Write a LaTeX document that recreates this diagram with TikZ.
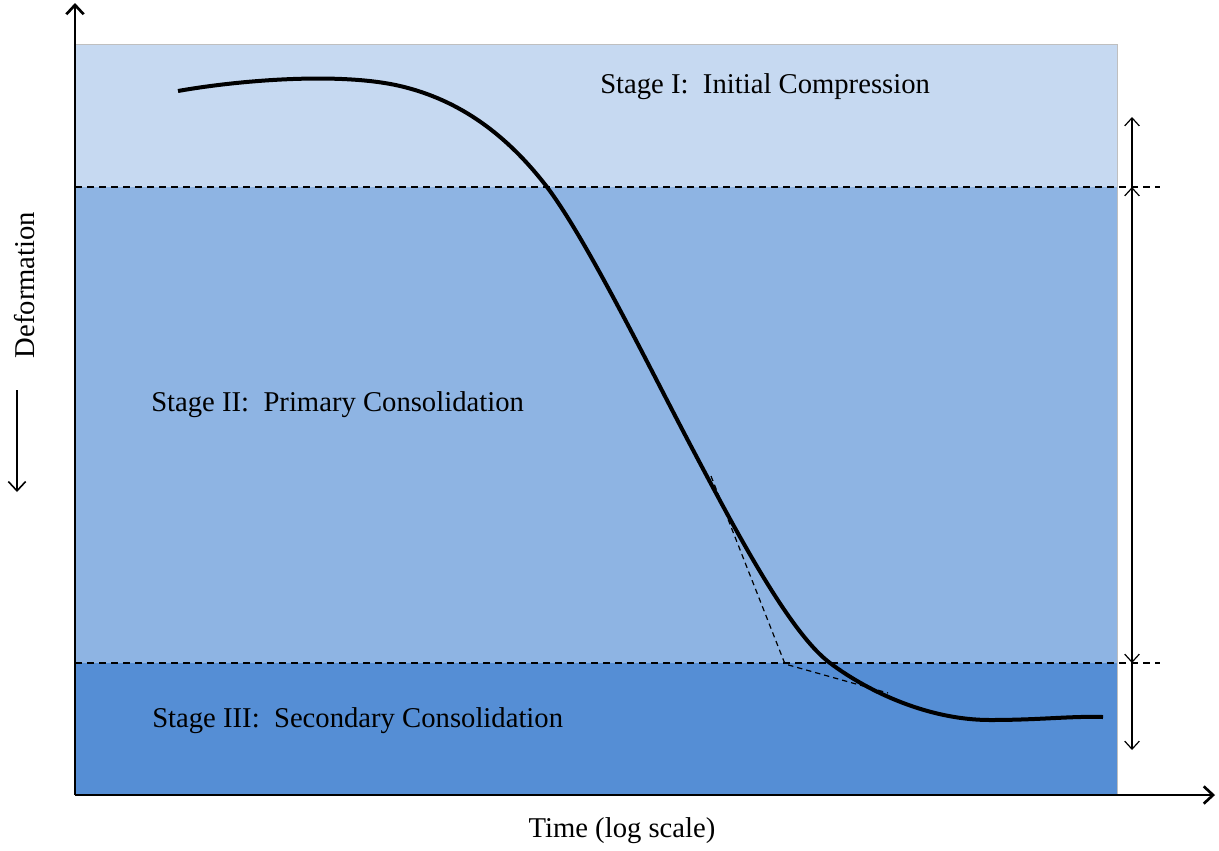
\documentclass[tikz,border=0pt]{standalone}
\usepackage{fontspec}
\setmainfont{Liberation Serif}
\usetikzlibrary{arrows.meta}
\definecolor{sI}{HTML}{C6D9F1}
\definecolor{sII}{HTML}{8EB4E3}
\definecolor{sIII}{HTML}{558ED5}
\tikzset{
  axis/.style={line width=2.2pt,-{Straight Barb[length=7pt,width=13pt,line width=2pt]}},
  dim/.style={line width=0.9pt},
  tipup/.style={-{Straight Barb[length=6pt,width=11pt,line width=0.9pt]}},
  tipboth/.style={{Straight Barb[length=6pt,width=11pt,line width=0.9pt]}-{Straight Barb[length=6pt,width=11pt,line width=0.9pt]}},
  lbl/.style={font=\fontsize{21.5}{24}\selectfont, inner sep=0pt},
  dsh/.style={dash pattern=on 5pt off 4pt, line width=0.9pt},
}
\begin{document}
\begin{tikzpicture}[x=0.75pt,y=-0.75pt]
\useasboundingbox (0,0) rectangle (1219,850);
% bands
\fill[sI] (75,44) rectangle (1117,187);
\fill[sII] (75,187) rectangle (1117,663);
\fill[sIII] (75,663) rectangle (1117,795);
\draw[gray!50, line width=0.6pt] (75,44) -- (1117,44) -- (1117,795);
% dashed boundaries
\draw[dsh] (75,187) -- (1160,187);
\draw[dsh] (75,663) -- (1160,663);
% axes
\coordinate (O) at (75,795);
\coordinate (Ytop) at (75,3);
\coordinate (Xend) at (1215,795);
\draw[axis] (O) -- (Ytop);
\draw[axis] (O) -- (Xend);
% curve
\draw[line width=3pt] (178,91)
  .. controls (240,80) and (340,72) .. (400,86)
  .. controls (460,100) and (507,135) .. (547,187)
  .. controls (587,240) and (648,365) .. (693,450)
  .. controls (738,535) and (790,633) .. (830,663)
  .. controls (870,693) and (930,720) .. (990,720)
  .. controls (1040,720) and (1070,716) .. (1103,717);
% tangents
\coordinate (T1) at (711,476);
\coordinate (T2) at (785,664);
\coordinate (T3) at (888,693);
\draw[line width=0.9pt, dash pattern=on 4pt off 3pt] (T1) -- (T2) -- (T3);
% right dimension arrows
\coordinate (A0) at (1132,117);
\coordinate (A1) at (1132,187);
\coordinate (A2) at (1132,663);
\coordinate (A3) at (1132,750);
\draw[dim, tipup] (A1) -- (A0);
\draw[dim, tipboth] (A1) -- (A2);
\draw[dim, tipup] (A2) -- (A3);
% labels
\node[lbl, anchor=west] (s1) at (600,87) {Stage I:\ \ Initial Compression};
\node[lbl, anchor=west] (s2) at (151,405) {Stage II:\ \ Primary Consolidation};
\node[lbl, anchor=west] (s3) at (152,721) {Stage III:\ \ Secondary Consolidation};
\node[lbl] (tl) at (622,831) {Time (log scale)};
\node[lbl, rotate=90] (dl) at (25,285) {Deformation};
\coordinate (D0) at (17,390);
\coordinate (D1) at (17,492);
\draw[line width=1.2pt, -{Straight Barb[length=7pt,width=13pt,line width=1.2pt]}] (D0) -- (D1);
\end{tikzpicture}
\end{document}
